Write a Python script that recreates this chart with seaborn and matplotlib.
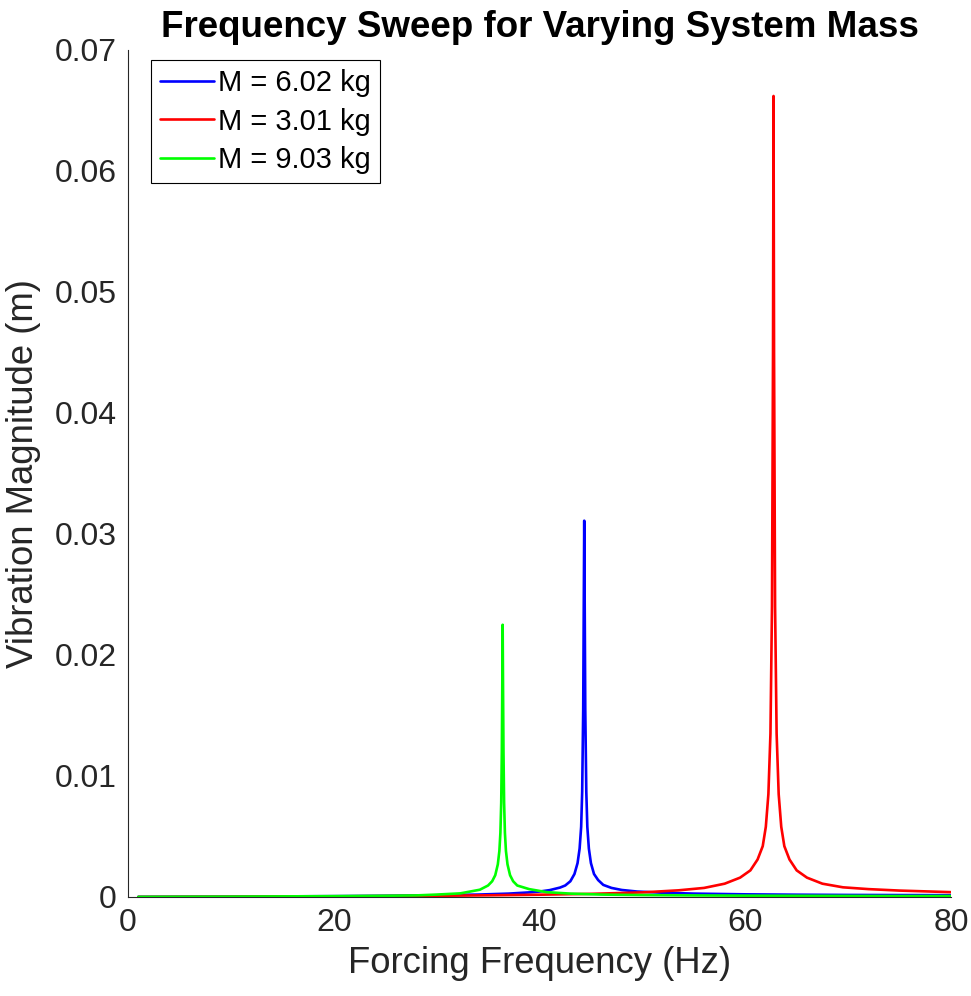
import numpy as np
import pandas as pd
import matplotlib
matplotlib.use('Agg')
import matplotlib.pyplot as plt
import seaborn as sns

# curve values (Hz, m)
freq_602 = [1, 5, 10, 15, 20, 25, 30, 34, 37, 39, 40, 41, 42, 42.5, 43, 43.4, 43.7, 43.9,
            44.05, 44.15, 44.25, 44.3, 44.35, 44.4, 44.45, 44.55, 44.65, 44.8, 45.0, 45.3,
            45.7, 46.2, 47, 48, 49.5, 52, 55, 60, 65, 70, 75, 80]
amp_602 = [0.00001, 0.00002, 0.00003, 0.00005, 0.00007, 0.0001, 0.00014, 0.0002, 0.00028,
           0.00038, 0.00045, 0.00057, 0.00078, 0.00095, 0.0013, 0.0019, 0.0028, 0.0040,
           0.0058, 0.0087, 0.0155, 0.0234, 0.0311, 0.0234, 0.0155, 0.0087, 0.0058, 0.0040,
           0.0028, 0.0019, 0.0014, 0.0010, 0.00075, 0.00058, 0.00045, 0.00035, 0.00028,
           0.00022, 0.00019, 0.00017, 0.00016, 0.00015]

freq_301 = [1, 5, 10, 15, 20, 25, 30, 35, 40, 45, 50, 53.5, 56, 58, 59.5, 60.5, 61.2, 61.7,
            62.0, 62.25, 62.45, 62.6, 62.7, 62.75, 62.8, 62.9, 63.05, 63.25, 63.5, 63.8,
            64.3, 65.0, 66.0, 67.5, 69.5, 72, 75, 80]
amp_301 = [0.0, 0.00001, 0.00002, 0.00004, 0.00005, 0.00007, 0.0001, 0.00014, 0.00019,
           0.00026, 0.00038, 0.00055, 0.00075, 0.0011, 0.0016, 0.0022, 0.0031, 0.0042,
           0.0058, 0.0085, 0.0135, 0.024, 0.045, 0.0662, 0.045, 0.024, 0.0135, 0.0085,
           0.0058, 0.0042, 0.0031, 0.0022, 0.0016, 0.0011, 0.0008, 0.00065, 0.00053, 0.0004]

freq_903 = [1, 5, 10, 15, 20, 25, 28, 30, 32.3, 34.2, 35.0, 35.4, 35.7, 35.95, 36.1, 36.2,
            36.28, 36.34, 36.38, 36.42, 36.46, 36.5, 36.56, 36.64, 36.74, 36.89, 37.14,
            37.44, 37.84, 39.0, 40.7, 43, 46, 50, 55, 60, 65, 70, 75, 80]
amp_903 = [0.00001, 0.00002, 0.00003, 0.00005, 0.00007, 0.0001, 0.00013, 0.0002, 0.0003,
           0.0006, 0.00095, 0.0013, 0.0018, 0.0027, 0.0038, 0.0053, 0.0078, 0.012, 0.017,
           0.0225, 0.017, 0.012, 0.0078, 0.0053, 0.0038, 0.0027, 0.0018, 0.0013, 0.00095,
           0.00065, 0.0004, 0.00028, 0.0002, 0.00016, 0.00013, 0.00011, 0.0001, 0.00009,
           0.00008, 0.00008]

labels = ['M = 6.02 kg', 'M = 3.01 kg', 'M = 9.03 kg']
colors = ['#0000ff', '#ff0000', '#00ff00']
xticks = [0, 20, 40, 60, 80]
yticks = [0, 0.01, 0.02, 0.03, 0.04, 0.05, 0.06, 0.07]
ytick_labels = ['0', '0.01', '0.02', '0.03', '0.04', '0.05', '0.06', '0.07']

df = pd.concat([
    pd.DataFrame({'freq': freq_602, 'amp': amp_602, 'mass': labels[0]}),
    pd.DataFrame({'freq': freq_301, 'amp': amp_301, 'mass': labels[1]}),
    pd.DataFrame({'freq': freq_903, 'amp': amp_903, 'mass': labels[2]}),
])

sns.set_style('white')
plt.rcParams['font.family'] = ['Liberation Sans', 'DejaVu Sans']
ink = '#262626'

fig = plt.figure(figsize=(9.71, 9.96), dpi=100)
ax = fig.add_axes([0.1318, 0.0994, 0.8476, 0.8504])

sns.lineplot(data=df, x='freq', y='amp', hue='mass', hue_order=labels,
             palette=colors, linewidth=1.9, ax=ax, estimator=None)

ax.set_xlim(0, 80)
ax.set_ylim(0, 0.07)
ax.set_xticks(xticks)
ax.set_xticklabels([str(t) for t in xticks])
ax.set_yticks(yticks)
ax.set_yticklabels(ytick_labels)
ax.tick_params(direction='in', length=6.5, width=0.8, colors=ink, labelsize=23, pad=8)

for side in ['top', 'right']:
    ax.spines[side].set_visible(False)
for side in ['left', 'bottom']:
    ax.spines[side].set_color(ink)
    ax.spines[side].set_linewidth(0.8)

ax.set_xlabel('Forcing Frequency (Hz)', fontsize=26.3, color=ink, labelpad=6)
ax.set_ylabel('Vibration Magnitude (m)', fontsize=26.3, color=ink, labelpad=10)
ax.set_title('Frequency Sweep for Varying System Mass', fontsize=26.5,
             fontweight='bold', color='black', pad=9)

leg = ax.legend(loc='upper left', bbox_to_anchor=(0.028, 0.988), borderaxespad=0,
                fontsize=21, frameon=True, fancybox=False, framealpha=1,
                edgecolor='black', handlelength=1.85, handletextpad=0.15,
                labelspacing=0.37, borderpad=0.3)
leg.get_frame().set_linewidth(0.8)
for txt in leg.get_texts():
    txt.set_color('black')

fig.savefig('out.png', dpi=100)
